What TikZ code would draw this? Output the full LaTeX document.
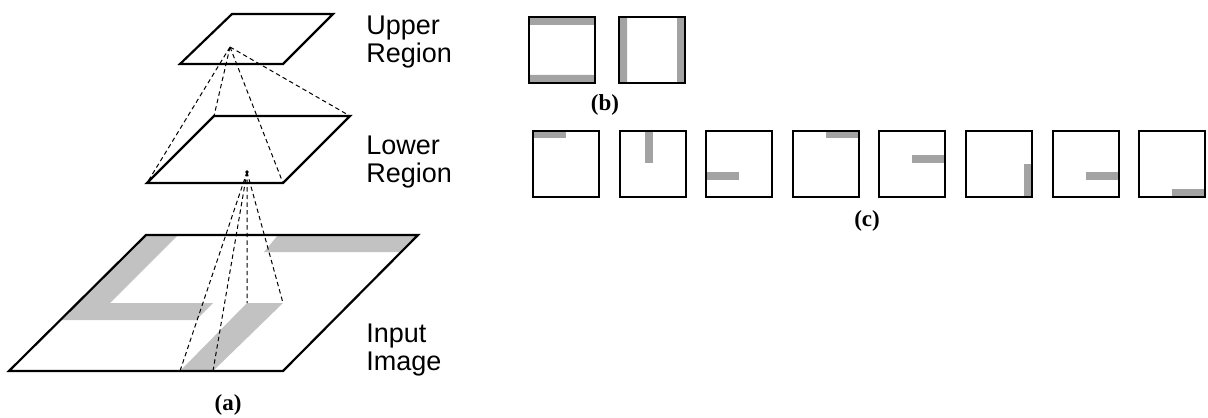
\documentclass[tikz,border=0pt]{standalone}
\usepackage{fontspec}
\setmainfont{Liberation Serif}
\setsansfont{Liberation Sans}
\usepackage{tikz}
\definecolor{bandgray}{gray}{0.76}
\definecolor{bargray}{gray}{0.64}
\tikzset{
plane/.style={line width=1.1pt, line join=miter}, % outline of a region plane
ray/.style={line width=0.5pt, dash pattern=on 2.2pt off 1.6pt}, % projection lines
band/.style={fill=bandgray}, % gray strokes of the input image
bar/.style={fill=bargray}, % gray bars inside the small cells
cell/.style={line width=0.75pt}, % small square cells
lbl/.style={anchor=west, align=left, inner sep=0pt, font=\sffamily\fontsize{13.5}{14}\selectfont}, % side labels
subcap/.style={inner sep=0pt, font=\bfseries\fontsize{11.5}{13}\selectfont}, % sub-figure captions
}
\begin{document}
\begin{tikzpicture}[x=0.5pt, y=-0.5pt]
	\useasboundingbox (0,0) rectangle (1208,417);
	% corners of the planes
	\coordinate (u1) at (232,14); \coordinate (u2) at (333,14);
	\coordinate (u3) at (283,64); \coordinate (u4) at (180,64);
	\coordinate (l1) at (214,116); \coordinate (l2) at (350,116);
	\coordinate (l3) at (283,183); \coordinate (l4) at (147,183);
	\coordinate (i1) at (146,235); \coordinate (i2) at (418,235);
	\coordinate (i3) at (283,371); \coordinate (i4) at (9,371);
	\coordinate (ua) at (230,47);
	\coordinate (la) at (247,172);
	\coordinate (f1) at (180,371); \coordinate (f2) at (213,371);
	\coordinate (f3) at (247,303); \coordinate (f4) at (283,303);

	\fill[band] (i1) -- (178,235) -- (110,303) -- (213,303) -- (196,320) -- (60,320) -- cycle;
	\fill[band] (f1) -- (f2) -- (f4) -- (f3) -- cycle;
	\fill[band] (278,235) -- (i2) -- (401,252) -- (264,252) -- cycle;

	\draw[plane] (u1) -- (u2) -- (u3) -- (u4) -- cycle;
	\draw[plane] (l1) -- (l2) -- (l3) -- (l4) -- cycle;
	\draw[plane] (i1) -- (i2) -- (i3) -- (i4) -- cycle;

	\draw[ray] (ua) -- (l4) (ua) -- (l1) (ua) -- (l3) (ua) -- (l2);
	\draw[ray] (la) -- (f1) (la) -- (f2) (la) -- (f3) (la) -- (f4);
	\fill (la) circle (1.8);

	\node[lbl] (upper) at (366,42) {Upper\\Region};
	\node[lbl] (lower) at (366,162) {Lower\\Region};
	\node[lbl] (input) at (366,350) {Input\\Image};
	\node[subcap] (capa) at (228,405) {(a)};

	% (b) cells
	\begin{scope}[shift={(529,17)}]
		\fill[bar] (0,0) rectangle (66,8) (0,58) rectangle (66,66);
		\draw[cell] (0,0) rectangle (66,66);
	\end{scope}
	\begin{scope}[shift={(619,17)}]
		\fill[bar] (0,0) rectangle (8,66) (58,0) rectangle (66,66);
		\draw[cell] (0,0) rectangle (66,66);
	\end{scope}
	\node[subcap] (capb) at (605,105) {(b)};

	% (c) cells
	\foreach \x/\ax/\ay/\bx/\by in {533/0/0/33/7, 620/25/0/33/32, 706/0/41/33/49, 793/33/0/66/7,
			879/33/24/66/32, 966/58/33/66/66, 1053/33/41/66/49, 1139/33/58/66/66}{
		\begin{scope}[shift={(\x,131)}]
			\fill[bar] (\ax,\ay) rectangle (\bx,\by);
			\draw[cell] (0,0) rectangle (66,66);
		\end{scope}
	}
	\node[subcap] (capc) at (867,221) {(c)};
\end{tikzpicture}
\end{document}
